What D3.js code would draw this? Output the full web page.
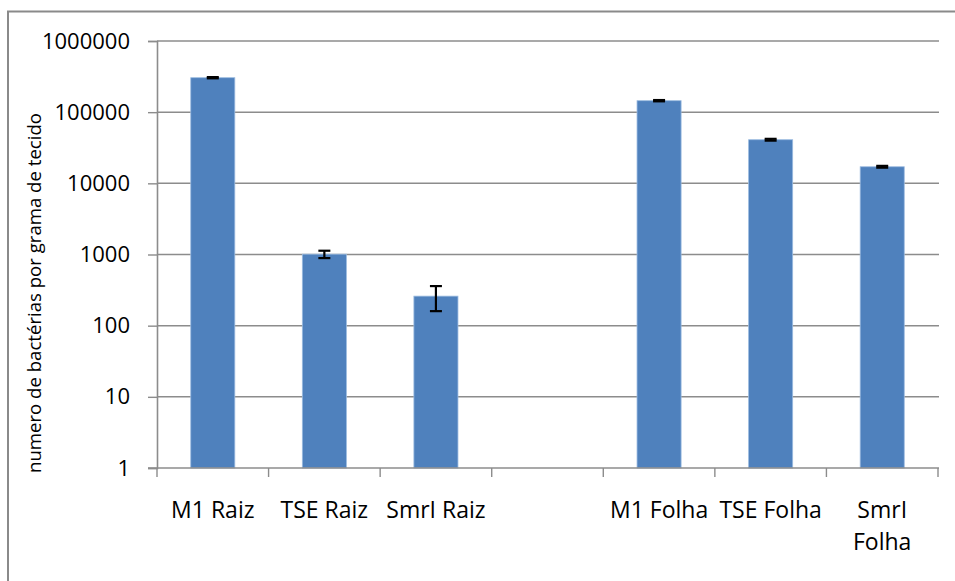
<!DOCTYPE html>
<html>
<head>
<meta charset="utf-8">
<script src="https://cdn.jsdelivr.net/npm/d3@7"></script>
<style>
  html, body { margin: 0; padding: 0; background: #fff; }
  svg { display: block; }
  text { font-family: "Open Sans", "Noto Sans", sans-serif; fill: #000; }
</style>
</head>
<body>
<svg id="chart" width="955" height="581"></svg>
<script>
// Bacterial counts per gram of tissue (root and leaf), with standard errors
const categories = ["M1 Raiz", "TSE Raiz", "SmrI Raiz", "", "M1 Folha", "TSE Folha", "SmrI Folha"];
const values = [305000, 1010, 260, null, 145000, 41000, 17100];
const errors = [6000, 120, 100, null, 3000, 1200, 500];
const yTicks = [1, 10, 100, 1000, 10000, 100000, 1000000];
const yTitle = "numero de bactérias por grama de tecido";

const svg = d3.select("#chart");
const plot = { left: 157, right: 938, top: 41, bottom: 468 };

// outer chart frame
svg.append("rect")
  .attr("x", 8).attr("y", 11.5)
  .attr("width", 990).attr("height", 620)
  .attr("fill", "none").attr("stroke", "#8a8a8a").attr("stroke-width", 2);

const x = d3.scaleBand()
  .domain(d3.range(categories.length))
  .range([plot.left, plot.right])
  .paddingInner(0.605)
  .paddingOuter(0.3025);

const y = d3.scaleLog()
  .domain([1, 1000000])
  .range([plot.bottom, plot.top]);

// horizontal gridlines
svg.append("g")
  .selectAll("line")
  .data(yTicks.slice(1))
  .join("line")
  .attr("x1", plot.left).attr("x2", plot.right + 1)
  .attr("y1", d => y(d)).attr("y2", d => y(d))
  .attr("stroke", "#8c8c8c").attr("stroke-width", 1.5);

// bars
const rows = categories.map((c, i) => ({ i, c, v: values[i], e: errors[i] }))
  .filter(d => d.v != null);

svg.append("g")
  .selectAll("rect")
  .data(rows)
  .join("rect")
  .attr("x", d => x(d.i))
  .attr("width", x.bandwidth())
  .attr("y", d => y(d.v))
  .attr("height", d => y(1) - y(d.v))
  .attr("fill", "#4f81bd")
  .attr("stroke", "#9bbbe0").attr("stroke-width", 0.8);

// error bars
const eg = svg.append("g").attr("stroke", "#000").attr("stroke-width", 2.2);
const capW = 12;
rows.forEach(d => {
  const cx = x(d.i) + x.bandwidth() / 2;
  const yHi = y(d.v + d.e), yLo = y(d.v - d.e);
  eg.append("line").attr("x1", cx).attr("x2", cx).attr("y1", yHi).attr("y2", yLo);
  eg.append("line").attr("x1", cx - capW / 2).attr("x2", cx + capW / 2).attr("y1", yHi).attr("y2", yHi);
  eg.append("line").attr("x1", cx - capW / 2).attr("x2", cx + capW / 2).attr("y1", yLo).attr("y2", yLo);
});

// y axis
const yAxis = svg.append("g")
  .attr("transform", `translate(${plot.left},0)`)
  .call(d3.axisLeft(y).tickValues(yTicks).tickFormat(d3.format("d")).tickSize(9).tickPadding(18));
yAxis.select(".domain").attr("stroke", "#8c8c8c").attr("stroke-width", 1.6);
yAxis.selectAll(".tick line").attr("stroke", "#8c8c8c").attr("stroke-width", 1.4);
yAxis.selectAll(".tick text")
  .attr("font-size", 22).attr("font-family", "'Open Sans', sans-serif").attr("fill", "#000");

// x axis with ticks at category boundaries
const xg = svg.append("g");
xg.append("line")
  .attr("x1", plot.left - 9).attr("x2", plot.right + 1)
  .attr("y1", plot.bottom).attr("y2", plot.bottom)
  .attr("stroke", "#8c8c8c").attr("stroke-width", 1.6);
const step = x.step();
const bounds = d3.range(categories.length + 1).map(k => plot.left + k * step);
xg.selectAll("line.b")
  .data(bounds)
  .join("line")
  .attr("class", "b")
  .attr("x1", d => d).attr("x2", d => d)
  .attr("y1", plot.bottom).attr("y2", plot.bottom + 9)
  .attr("stroke", "#8c8c8c").attr("stroke-width", 1.4);

// category labels, wrapped onto two lines when wider than one band
const lab = svg.append("g");
categories.forEach((c, i) => {
  if (!c) return;
  const cx = x(i) + x.bandwidth() / 2;
  const t = lab.append("text")
    .attr("x", cx).attr("y", 518)
    .attr("text-anchor", "middle")
    .attr("font-size", 23)
    .text(c);
  if (t.node().getComputedTextLength() > step) {
    const words = c.split(" ");
    t.text(null);
    words.forEach((w, k) => {
      t.append("tspan").attr("x", cx).attr("dy", k === 0 ? 0 : 32).text(w);
    });
  }
});

// y axis title
svg.append("text")
  .attr("transform", `translate(41,293) rotate(-90)`)
  .attr("text-anchor", "middle")
  .attr("font-size", 18.6)
  .text(yTitle);
</script>
</body>
</html>
